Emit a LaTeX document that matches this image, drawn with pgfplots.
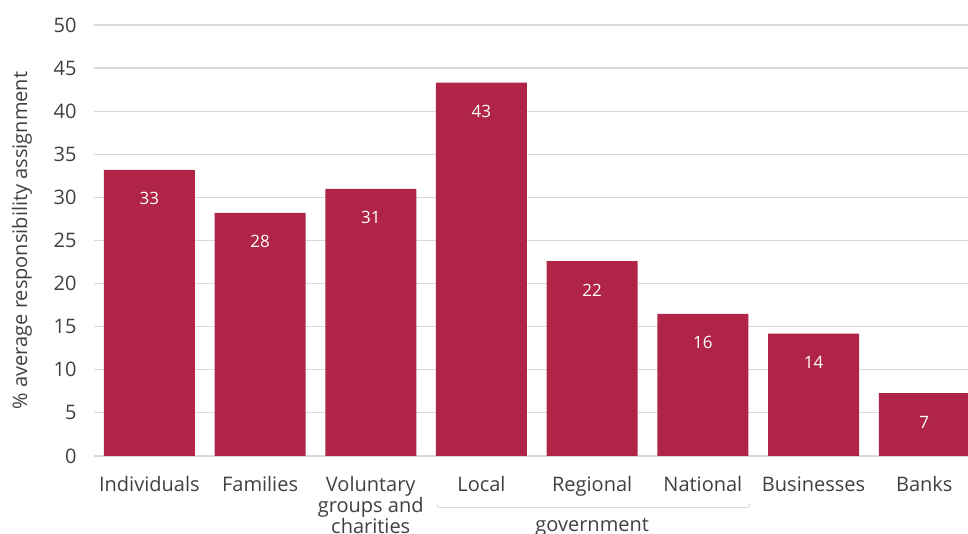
\documentclass[border=0pt]{standalone}
\usepackage{pgfplots}
\pgfplotsset{compat=1.18}
\usepackage{fontspec}
\setmainfont{Open Sans}
\definecolor{barc}{RGB}{176,37,71}
\definecolor{txtc}{RGB}{64,64,64}
\definecolor{gridc}{RGB}{217,217,217}
\begin{document}
\begin{tikzpicture}
\begin{axis}[
  scale only axis,
  width=874pt, height=431pt,
  xmin=-0.5, xmax=7.395,
  ymin=0, ymax=50,
  ytick={0,5,...,50},
  xtick={0,...,7},
  xticklabels={Individuals,Families,{Voluntary\\groups and\\charities},Local,Regional,National,Businesses,Banks},
  axis line style={draw=none},
  major tick length=0pt,
  xmajorgrids=false,
  ymajorgrids=true,
  major grid style={draw=gridc, line width=1.2pt},
  clip=false,
  ticklabel style={font=\fontsize{20}{21}\selectfont, text=txtc},
  xticklabel style={align=center, anchor=north, yshift=-17pt},
  yticklabel style={anchor=east, xshift=-14pt},
  /pgf/number format/assume math mode=true,
  ybar, bar width=91pt,
  point meta=explicit symbolic,
  nodes near coords,
  nodes near coords style={anchor=center, yshift=-29pt, text=white, font=\fontsize{17}{18}\selectfont},
]
\addplot[fill=barc, draw=none] table[meta=lab] {
x y lab
0 33.2 33
1 28.2 28
2 31.0 31
3 43.3 43
4 22.6 22
5 16.5 16
6 14.2 14
7 7.3 7
};
\draw[gridc, line width=1pt] (axis cs:2.607,-5.92) -- (axis cs:5.417,-5.92);
\draw[gridc, line width=1pt] (axis cs:2.607,-5.92) -- (axis cs:2.607,-5.6);
\draw[gridc, line width=1pt] (axis cs:5.417,-5.92) -- (axis cs:5.417,-5.6);
\node[font=\fontsize{20}{21}\selectfont, text=txtc] at (axis cs:4,-8.25) {government};
\node[font=\fontsize{20}{21}\selectfont, text=txtc, rotate=90] at (rel axis cs:-0.0824,0.5) {\% average responsibility assignment};
\coordinate (bl) at (rel axis cs:0,0);
\coordinate (tr) at (rel axis cs:1,1);
\end{axis}
\pgfresetboundingbox
\path[use as bounding box] ([xshift=-94pt,yshift=-78pt]bl) rectangle ([yshift=25pt]tr);
\end{tikzpicture}
\end{document}
